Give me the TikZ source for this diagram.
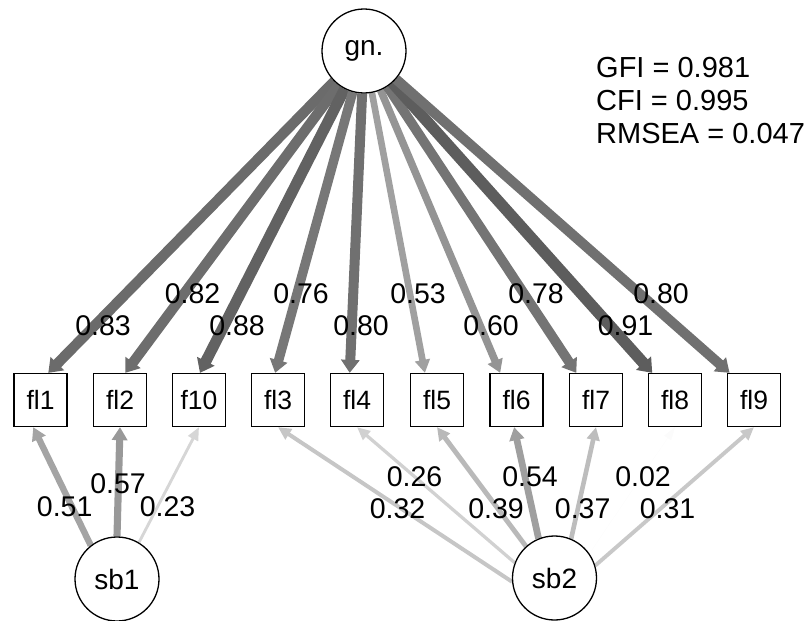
\documentclass[tikz,border=0pt]{standalone}
\usepackage{fontspec}
\setmainfont{Liberation Sans}
\usetikzlibrary{arrows.meta}
\pgfdeclarelayer{edgelayer}
\pgfsetlayers{edgelayer,main}
\newcommand{\semedge}[3]{%
  \pgfmathsetmacro{\ew}{12.5*#3}%
  \pgfmathsetmacro{\ec}{70*#3}%
  \pgfmathsetmacro{\tw}{12.5*#3+8}%
  \draw[line width=\ew pt, draw=black!\ec, -{Triangle[length=13pt,width=\tw pt]}] (#1) -- (#2);}
\begin{document}
\begin{tikzpicture}[x=1pt,y=-1pt,
  lat/.style={circle,draw,line width=1.3pt,fill=white,minimum size=84pt,inner sep=0pt,font=\fontsize{28}{30}\selectfont},
  man/.style={rectangle,draw,line width=1.3pt,fill=white,minimum size=53pt,inner sep=0pt,font=\fontsize{26.5}{28}\selectfont},
  lab/.style={font=\fontsize{28.5}{30}\selectfont,inner sep=0pt},
  fit/.style={font=\fontsize{29}{31}\selectfont,inner sep=0pt,anchor=west}]
\useasboundingbox (0,0) rectangle (809,621);
% nodes
\node[lat] (gn) at (364,51) {gn.};
\node[lat] (sb1) at (117,579) {sb1};
\node[lat] (sb2) at (554.5,578) {sb2};
\node[man] (fl1) at (40.5,400) {fl1};
\node[man] (fl2) at (120,400) {fl2};
\node[man] (f10) at (199,400) {f10};
\node[man] (fl3) at (278,400) {fl3};
\node[man] (fl4) at (357,400) {fl4};
\node[man] (fl5) at (437,400) {fl5};
\node[man] (fl6) at (516.5,400) {fl6};
\node[man] (fl7) at (596,400) {fl7};
\node[man] (fl8) at (675,400) {fl8};
\node[man] (fl9) at (754,400) {fl9};
% edges
\begin{pgfonlayer}{edgelayer}
\semedge{gn}{fl1.74}{0.83}
\semedge{gn}{fl2.79}{0.82}
\semedge{gn}{f10.88}{0.88}
\semedge{gn}{fl3.96}{0.76}
\semedge{gn}{fl4.105}{0.80}
\semedge{gn}{fl5.114}{0.53}
\semedge{gn}{fl6.121}{0.60}
\semedge{gn}{fl7.126}{0.78}
\semedge{gn}{fl8.130}{0.91}
\semedge{gn}{fl9.132}{0.80}
\semedge{sb1.128}{fl1.-105}{0.51}
\semedge{sb1.90}{fl2.south}{0.57}
\semedge{sb1.59}{f10.south}{0.23}
\semedge{sb2.185}{fl3.south}{0.32}
\semedge{sb2.159}{fl4.south}{0.26}
\semedge{sb2.132}{fl5.south}{0.39}
\semedge{sb2.112}{fl6.-95}{0.54}
\semedge{sb2.67}{fl7.south}{0.37}
\semedge{sb2.35}{fl8.south}{0.02}
\semedge{sb2.17}{fl9.south}{0.31}
\end{pgfonlayer}
% edge labels
\node[lab] (l1) at (103,326) {0.83};
\node[lab] (l2) at (192.5,294) {0.82};
\node[lab] (l3) at (237,326) {0.88};
\node[lab] (l4) at (301,294) {0.76};
\node[lab] (l5) at (361,326) {0.80};
\node[lab] (l6) at (418,294) {0.53};
\node[lab] (l7) at (491,326) {0.60};
\node[lab] (l8) at (536,294) {0.78};
\node[lab] (l9) at (625.5,326) {0.91};
\node[lab] (l10) at (661,294) {0.80};
\node[lab] (m1) at (64.7,507) {0.51};
\node[lab] (m2) at (118,484) {0.57};
\node[lab] (m3) at (167.5,507) {0.23};
\node[lab] (m4) at (397.5,509) {0.32};
\node[lab] (m5) at (414.5,477) {0.26};
\node[lab] (m6) at (496,509) {0.39};
\node[lab] (m7) at (530,477) {0.54};
\node[lab] (m8) at (582.7,509) {0.37};
\node[lab] (m9) at (643,477) {0.02};
\node[lab] (m10) at (667.5,509) {0.31};
% fit indices
\node[fit] (gfi) at (596,68) {GFI = 0.981};
\node[fit] (cfi) at (596,101) {CFI = 0.995};
\node[fit] (rmsea) at (596,134) {RMSEA = 0.047};
\end{tikzpicture}
\end{document}
